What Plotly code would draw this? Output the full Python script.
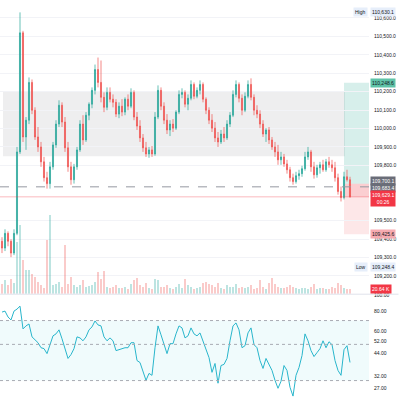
import plotly.graph_objects as go

# ---------------- data ----------------
OPEN = [109388, 109351, 109431, 109388, 109324, 109431, 109873, 110519, 109954, 110045,
        110250, 110099, 109954, 109900, 109819, 109733, 109701, 109792, 109911, 110024,
        110126, 110035, 109895, 109792, 109722, 109792, 109884, 110024, 109938, 110072,
        110132, 110207, 110320, 110250, 110169, 110115, 110196, 110159, 110142, 110078,
        110121, 110089, 110159, 110121, 110196, 110062, 110013, 109949, 109895, 109862,
        109884, 109862, 110062, 110207, 110121, 110045, 109992, 110024, 110002, 110089,
        110185, 110196, 110132, 110164, 110239, 110175, 110207, 110239, 110159, 110099,
        110045, 110002, 109949, 109927, 109970, 109949, 110024, 110072, 110185, 110239,
        110164, 110099, 110175, 110239, 110169, 110099, 110078, 110024, 109970, 109992,
        109938, 109900, 109873, 109830, 109846, 109808, 109776, 109733, 109712, 109744,
        109755, 109782, 109846, 109873, 109792, 109749, 109787, 109803, 109776, 109819,
        109803, 109787, 109733, 109658, 109625, 109738, 109722]
HIGH = [109410, 109453, 109442, 109399, 109453, 109900, 110630.1, 110530, 110062, 110277,
        110266, 110115, 110008, 109927, 109846, 109765, 109819, 109927, 110045, 110153,
        110142, 110062, 109927, 109819, 109808, 109900, 110045, 110072, 110089, 110142,
        110223, 110347, 110385, 110369, 110196, 110223, 110223, 110185, 110159, 110142,
        110159, 110169, 110185, 110218, 110207, 110089, 110045, 109970, 109927, 109900,
        109905, 110089, 110234, 110223, 110142, 110078, 110045, 110051, 110099, 110207,
        110218, 110207, 110185, 110261, 110250, 110223, 110261, 110250, 110169, 110115,
        110078, 110035, 109981, 109992, 110008, 110045, 110089, 110207, 110261, 110250,
        110185, 110196, 110261, 110272, 110185, 110126, 110099, 110045, 110002, 110008,
        109954, 109927, 109911, 109873, 109862, 109830, 109792, 109755, 109765, 109776,
        109798, 109873, 109900, 109884, 109819, 109803, 109819, 109830, 109835, 109846,
        109830, 109819, 109755, 109685, 109765, 109776, 109738]
LOW = [109324, 109335, 109361, 109302, 109313, 109421, 109862, 109927, 109884, 110024,
       110078, 109938, 109873, 109792, 109712, 109674, 109674, 109776, 109895, 110008,
       110008, 109873, 109765, 109695, 109701, 109776, 109873, 109911, 109927, 110045,
       110110, 110185, 110223, 110142, 110089, 110099, 110142, 110115, 110062, 110056,
       110067, 110072, 110099, 110110, 110045, 109992, 109927, 109873, 109846, 109841,
       109846, 109852, 110051, 110099, 110024, 109970, 109959, 109981, 109992, 110078,
       110164, 110115, 110099, 110153, 110159, 110164, 110185, 110142, 110078, 110024,
       109981, 109927, 109900, 109916, 109927, 109938, 110008, 110062, 110169, 110142,
       110072, 110089, 110164, 110153, 110072, 110056, 110002, 109954, 109927, 109916,
       109884, 109846, 109803, 109803, 109792, 109755, 109712, 109695, 109701, 109722,
       109738, 109771, 109830, 109765, 109728, 109733, 109755, 109765, 109765, 109787,
       109765, 109712, 109641, 109604, 109615, 109712, 109625]
CLOSE = [109351, 109431, 109388, 109324, 109431, 109873, 110519, 109954, 110045, 110250,
         110099, 109954, 109900, 109819, 109733, 109701, 109792, 109911, 110024, 110126,
         110035, 109895, 109792, 109722, 109792, 109884, 110024, 109938, 110072, 110132,
         110207, 110320, 110250, 110169, 110115, 110196, 110159, 110142, 110078, 110121,
         110089, 110159, 110121, 110196, 110062, 110013, 109949, 109895, 109862, 109884,
         109862, 110062, 110207, 110121, 110045, 109992, 110024, 110002, 110089, 110185,
         110196, 110132, 110164, 110239, 110175, 110207, 110239, 110159, 110099, 110045,
         110002, 109949, 109927, 109970, 109949, 110024, 110072, 110185, 110239, 110164,
         110099, 110175, 110239, 110169, 110099, 110078, 110024, 109970, 109992, 109938,
         109900, 109873, 109830, 109846, 109808, 109776, 109733, 109712, 109744, 109755,
         109782, 109846, 109873, 109792, 109749, 109787, 109803, 109776, 109819, 109803,
         109787, 109733, 109658, 109625, 109738, 109722, 109629.1]
VOLUME_K = [40, 55, 35, 60, 45, 215, 285, 140, 100, 98,
            82, 70, 50, 37, 25, 220, 325, 37, 40, 50,
            30, 200, 40, 70, 38, 28, 35, 55, 30, 33,
            36, 48, 90, 60, 95, 30, 25, 28, 35, 22,
            26, 30, 20, 40, 55, 65, 35, 30, 45, 25,
            20, 60, 55, 28, 30, 35, 22, 18, 30, 40,
            25, 60, 35, 28, 20, 25, 30, 45, 50, 40,
            35, 30, 45, 25, 20, 35, 28, 30, 40, 25,
            30, 22, 28, 35, 20, 25, 55, 30, 18, 45,
            65, 40, 30, 25, 22, 28, 35, 30, 25, 20,
            22, 25, 18, 28, 40, 20, 22, 25, 18, 20,
            30, 25, 45, 38, 25, 18, 20.64]
RSI = [78.9, 80.0, 73.6, 70.6, 80.0, 82.3, 85.8, 62.2, 64.9, 66.7,
       55.6, 53.3, 51.2, 47.7, 47.1, 43.9, 50.5, 56.4, 58.0, 61.4,
       54.1, 47.1, 41.0, 43.3, 47.1, 55.6, 54.8, 52.6, 55.6, 61.4,
       64.0, 69.6, 65.8, 64.9, 55.6, 52.6, 54.8, 52.6, 45.8, 46.4,
       47.1, 47.7, 47.7, 51.2, 51.2, 39.8, 38.7, 33.7, 30.1, 33.2,
       32.3, 47.7, 64.9, 57.2, 49.8, 43.9, 50.5, 50.5, 58.0, 64.9,
       63.1, 54.8, 56.4, 63.1, 58.0, 56.4, 58.8, 52.6, 45.8, 41.5,
       33.7, 38.2, 28.9, 37.1, 37.7, 41.0, 52.6, 64.9, 67.7, 61.4,
       47.7, 49.1, 58.8, 63.1, 49.8, 47.7, 39.8, 35.6, 41.0, 37.7,
       34.6, 30.1, 26.9, 29.7, 37.1, 34.6, 27.3, 24.1, 32.3, 36.1,
       42.7, 58.0, 52.6, 45.8, 42.1, 44.5, 47.1, 52.6, 47.7, 51.9,
       49.8, 39.8, 34.6, 32.3, 46.4, 49.1, 38.75]

PRICE_TICKS = [110600, 110500, 110400, 110300, 110200, 110100, 110000,
               109900, 109800, 109500, 109400, 109300, 109200]
RSI_TICKS = [100, 80, 60, 52, 44, 32, 27]
RSI_BANDS = [70, 50, 30]

HIGH_VALUE = 110630.1
LOW_VALUE = 109248.4
RANGE_TOP, RANGE_BOTTOM = 110200, 109850
POS_START = 114
POS_TARGET, POS_ENTRY, POS_STOP = 110248.6, 109700.1, 109425.6
AVG_PRICE = 109683.4
COUNTDOWN = "00:26"

# ---------------- styles ----------------
UP, DOWN = "#26a69a", "#ef5350"
FONT = "Liberation Sans"
TXT = "#131722"
N = len(CLOSE)
X = list(range(N))
XR = [-0.667, 122.333]

fig = go.Figure()
fig.add_trace(go.Bar(
    x=X, y=VOLUME_K, yaxis="y3", xaxis="x",
    marker=dict(color=["rgba(38,166,154,0.3)" if c >= o else "rgba(239,83,80,0.3)"
                       for o, c in zip(OPEN, CLOSE)], line=dict(width=0)),
    width=0.55, showlegend=False, hoverinfo="skip"))
fig.add_trace(go.Candlestick(
    x=X, open=OPEN, high=HIGH, low=LOW, close=CLOSE, xaxis="x", yaxis="y",
    increasing=dict(line=dict(color=UP, width=0.7), fillcolor=UP),
    decreasing=dict(line=dict(color=DOWN, width=0.7), fillcolor=DOWN),
    whiskerwidth=0, showlegend=False))
fig.add_trace(go.Scatter(
    x=X, y=RSI, xaxis="x2", yaxis="y2", mode="lines",
    line=dict(color="#29b6cc", width=1), showlegend=False))

shapes = []
shapes.append(dict(type="rect", xref="x", yref="y", x0=0.33, x1=POS_START + 0.33,
                   y0=RANGE_BOTTOM, y1=RANGE_TOP, fillcolor="rgba(120,123,134,0.13)",
                   line=dict(width=0), layer="below"))
shapes.append(dict(type="rect", xref="x", yref="y", x0=POS_START, x1=130,
                   y0=POS_ENTRY, y1=POS_TARGET, fillcolor="rgba(8,153,129,0.16)",
                   line=dict(width=0), layer="below"))
shapes.append(dict(type="rect", xref="x", yref="y", x0=POS_START, x1=130,
                   y0=POS_STOP, y1=POS_ENTRY, fillcolor="rgba(242,54,69,0.12)",
                   line=dict(width=0), layer="below"))
shapes.append(dict(type="rect", xref="x", yref="y", x0=POS_START, x1=130,
                   y0=CLOSE[-1], y1=POS_ENTRY, fillcolor="rgba(242,54,69,0.14)",
                   line=dict(width=0), layer="below"))
shapes.append(dict(type="line", xref="paper", yref="y", x0=0, x1=1, y0=AVG_PRICE, y1=AVG_PRICE,
                   line=dict(color="#9598a1", width=1, dash="dash")))
shapes.append(dict(type="line", xref="paper", yref="y", x0=0, x1=1, y0=CLOSE[-1], y1=CLOSE[-1],
                   line=dict(color="rgba(242,54,69,0.35)", width=1)))
shapes.append(dict(type="line", xref="paper", yref="paper", x0=0, x1=1.08, y0=0.2665, y1=0.2665,
                   line=dict(color="#e0e3eb", width=1)))
shapes.append(dict(type="rect", xref="paper", yref="y2", x0=0, x1=1, y0=min(RSI_BANDS), y1=max(RSI_BANDS),
                   fillcolor="rgba(0,188,212,0.06)", line=dict(width=0), layer="below"))
for b in RSI_BANDS:
    shapes.append(dict(type="line", xref="paper", yref="y2", x0=0, x1=1, y0=b, y1=b,
                       line=dict(color="#a8abb3", width=1, dash="dot")))

def fmt(v):
    return f"{v:,.1f}"

def label(text, y, yref, bg, fg, yshift=0):
    return dict(text=text, xref="paper", x=1, xanchor="left", xshift=1, yref=yref, y=y,
                yanchor="middle", yshift=yshift, showarrow=False, bgcolor=bg,
                font=dict(family=FONT, size=5, color=fg), borderpad=1)

ann = [
    dict(text="High", xref="paper", x=1, xanchor="right", xshift=-1, yref="y", y=HIGH_VALUE,
         showarrow=False, bgcolor="#e6eefa", font=dict(family=FONT, size=5, color=TXT), borderpad=1),
    label(fmt(HIGH_VALUE), HIGH_VALUE, "y", "#e6eefa", TXT),
    dict(text="Low", xref="paper", x=1, xanchor="right", xshift=-1, yref="y", y=LOW_VALUE,
         showarrow=False, bgcolor="#e6eefa", font=dict(family=FONT, size=5, color=TXT), borderpad=1),
    label(fmt(LOW_VALUE), LOW_VALUE, "y", "#e6eefa", TXT),
    label(fmt(POS_TARGET), POS_TARGET, "y", "#5fc3a8", TXT),
    label(fmt(POS_ENTRY), POS_ENTRY, "y", "#6a6d78", "white", yshift=3),
    label(fmt(AVG_PRICE), AVG_PRICE, "y", "#6a6d78", "white", yshift=-1),
    label(fmt(CLOSE[-1]) + "<br>" + COUNTDOWN, CLOSE[-1], "y", "#f23645", "white", yshift=-2),
    label(fmt(POS_STOP), POS_STOP, "y", "#f7aab0", TXT),
    label(f"{VOLUME_K[-1]:.2f} K", VOLUME_K[-1], "y3", "#f23645", "white"),
    label(f"{RSI[-1]:.2f}", RSI[-1], "y2", "#26c6da", TXT),
]

fig.update_layout(
    width=400, height=400, margin=dict(l=0, r=31, t=0, b=0),
    paper_bgcolor="white", plot_bgcolor="white",
    font=dict(family=FONT, size=5, color=TXT),
    showlegend=False, bargap=0, boxgap=0.5,
    xaxis=dict(domain=[0, 1], range=XR, visible=False, anchor="y",
               rangeslider=dict(visible=False)),
    xaxis2=dict(domain=[0, 1], range=XR, visible=False, anchor="y2", matches="x"),
    yaxis=dict(domain=[0.2675, 1], range=[109103, 110681], side="right", anchor="x",
               tickvals=PRICE_TICKS, ticktext=[fmt(v) for v in PRICE_TICKS],
               tickfont=dict(family=FONT, size=5, color=TXT), ticks="", ticklabelstandoff=4,
               showgrid=True, gridcolor="#f2f3f7", zeroline=False, showline=False),
    yaxis3=dict(overlaying="y", range=[0, 1200], visible=False, anchor="x"),
    yaxis2=dict(domain=[0, 0.265], type="log", range=[1.358, 2.003], side="right", anchor="x2",
                tickvals=RSI_TICKS, ticktext=[f"{v:.2f}" for v in RSI_TICKS],
                tickfont=dict(family=FONT, size=5, color=TXT), ticks="", ticklabelstandoff=4,
                showgrid=False, zeroline=False, showline=False),
    shapes=shapes, annotations=ann,
)

fig.write_html("out.html", config={"displayModeBar": False},
               post_script="document.body.style.margin='0';document.body.style.padding='0';")
